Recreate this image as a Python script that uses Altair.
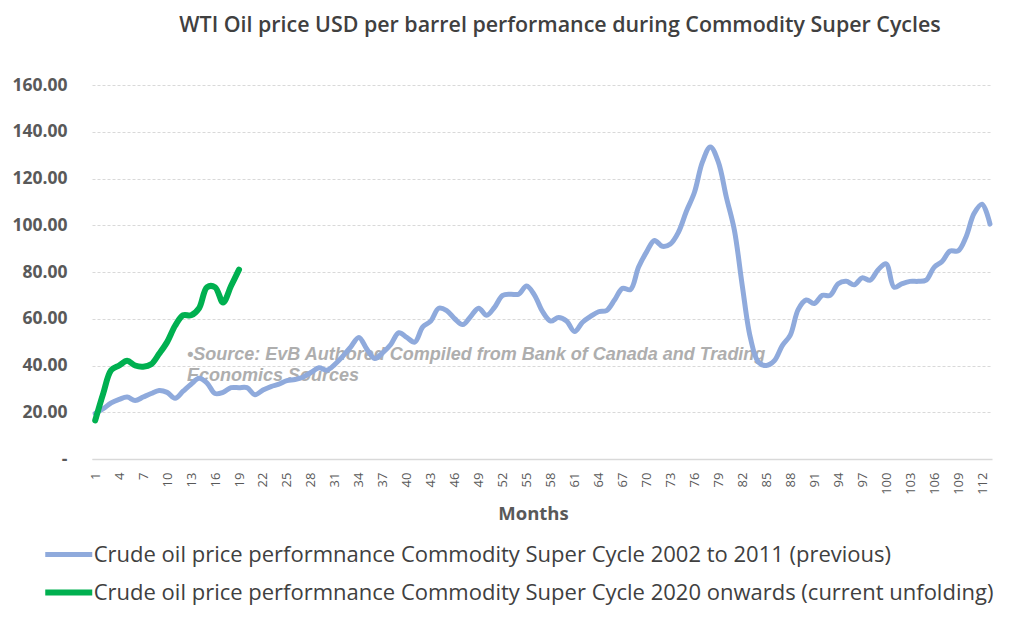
import altair as alt
import pandas as pd

series_names = [
    "Crude oil price performnance Commodity Super Cycle 2002 to 2011 (previous)",
    "Crude oil price performnance Commodity Super Cycle 2020 onwards (current unfolding)",
]
series_colors = ["#8FAADC", "#00B050"]
series_widths = [5, 6]

months_prev = list(range(1, 114))
price_prev = [
    19.5, 21.5, 24.0, 25.5, 26.5, 25.0, 26.5, 28.0, 29.3, 28.5,
    26.0, 29.0, 32.0, 34.5, 32.5, 28.0, 28.5, 30.5, 30.5, 30.5,
    27.5, 29.5, 31.0, 32.0, 33.5, 34.0, 35.0, 37.0, 39.0, 38.0,
    40.5, 44.0, 48.0, 52.0, 47.0, 43.0, 45.5, 49.0, 54.0, 52.0,
    50.0, 56.5, 59.0, 64.5, 63.5, 60.0, 57.5, 61.0, 64.5, 61.5,
    65.0, 70.0, 70.5, 70.5, 74.0, 70.0, 63.0, 59.0, 60.5, 59.0,
    54.5, 58.5, 61.0, 63.0, 63.5, 68.0, 73.0, 72.5, 82.0, 88.5,
    93.5, 91.0, 92.0, 97.0, 106.0, 114.0, 127.0, 133.5, 127.0, 112.0,
    98.0, 74.0, 52.0, 41.5, 40.0, 42.0, 48.5, 53.0, 64.0, 68.0,
    66.5, 70.0, 70.0, 75.0, 76.0, 74.5, 77.5, 76.5, 81.0, 83.5,
    73.5, 75.0, 76.0, 76.0, 76.5, 82.0, 84.5, 89.0, 89.0, 95.0,
    105.0, 109.0, 100.5,
]

months_curr = list(range(1, 20))
price_curr = [
    16.5, 28.0, 38.0, 40.0, 42.0, 40.0, 39.5, 40.5, 45.0, 50.0,
    57.0, 61.5, 61.5, 64.5, 73.5, 73.5, 67.0, 74.0, 81.0,
]

x_ticks = list(range(1, 113, 3))
y_ticks = [0, 20, 40, 60, 80, 100, 120, 140, 160]

title_text = "WTI Oil price USD per barrel performance during Commodity Super Cycles"
x_title = "Months"
source_text = "\u2022Source: EvB Authored Compiled from Bank of Canada and Trading\nEconomics Sources"

df = pd.concat([
    pd.DataFrame({"month": months_prev, "price": price_prev, "series": series_names[0]}),
    pd.DataFrame({"month": months_curr, "price": price_curr, "series": series_names[1]}),
], ignore_index=True)

FONT = "Open Sans"
GRAY = "#595959"

source = alt.Chart(pd.DataFrame({"t": [source_text]})).mark_text(
    text=source_text, lineBreak="\n", lineHeight=21, align="left", baseline="alphabetic",
    font="Liberation Sans", fontSize=18, fontStyle="italic", fontWeight="bold",
    color="#A6A6A6", opacity=0.9,
).encode(x=alt.value(95), y=alt.value(275))

lines = alt.Chart(df).mark_line(interpolate="catmull-rom", strokeCap="round", strokeJoin="round").encode(
    x=alt.X("month:Q",
            scale=alt.Scale(domain=[0.6, 113.25], nice=False, zero=False),
            axis=alt.Axis(values=x_ticks, labelAngle=270, labelFontSize=13, labelColor=GRAY,
                          labelFont=FONT, labelPadding=13, ticks=False, grid=False,
                          domainColor="#D9D9D9", domainWidth=1.5,
                          labelAlign="right", labelBaseline="middle", labelOverlap=False,
                          labelFlush=False,
                          title=x_title, titleFont=FONT, titleFontSize=18.5, titleFontWeight="bold",
                          titleColor=GRAY, titlePadding=10, titleX=441)),
    y=alt.Y("price:Q",
            scale=alt.Scale(domain=[0, 160], nice=False),
            axis=alt.Axis(values=y_ticks, labelExpr="datum.value == 0 ? '-' : format(datum.value, '.2f')",
                          labelFontSize=17.5, labelFontWeight="bold", labelColor=GRAY, labelFont=FONT,
                          labelPadding=25, ticks=False, domain=False, grid=True,
                          gridColor="#D9D9D9", gridDash=[3, 2], gridWidth=1, title=None)),
    color=alt.Color("series:N", sort=series_names,
                    scale=alt.Scale(domain=series_names, range=series_colors),
                    legend=alt.Legend(title=None, orient="none", legendX=-38.25, legendY=455,
                                      direction="vertical", symbolType="M-2,0H2", symbolSize=552,
                                      symbolStrokeWidth=5, labelFontSize=22, labelFont=FONT,
                                      labelColor="#404040", labelLimit=1200, labelOffset=10,
                                      rowPadding=11.5)),
    strokeWidth=alt.StrokeWidth("series:N", sort=series_names,
                                scale=alt.Scale(domain=series_names, range=series_widths),
                                legend=None),
    order=alt.Order("month:Q"),
)

chart = alt.layer(source, lines).properties(
    width=900, height=374,
    autosize=alt.AutoSizeParams(type="none"),
    padding={"left": 84, "top": 77, "right": 16, "bottom": 150},
    background="white",
    title=alt.TitleParams(title_text, font=FONT, fontSize=21.4, fontWeight=600, color="#404040",
                          anchor="middle", dx=18, offset=40),
).configure_view(stroke=None)

chart.save("out.html", embed_options={"renderer": "svg", "actions": False})
